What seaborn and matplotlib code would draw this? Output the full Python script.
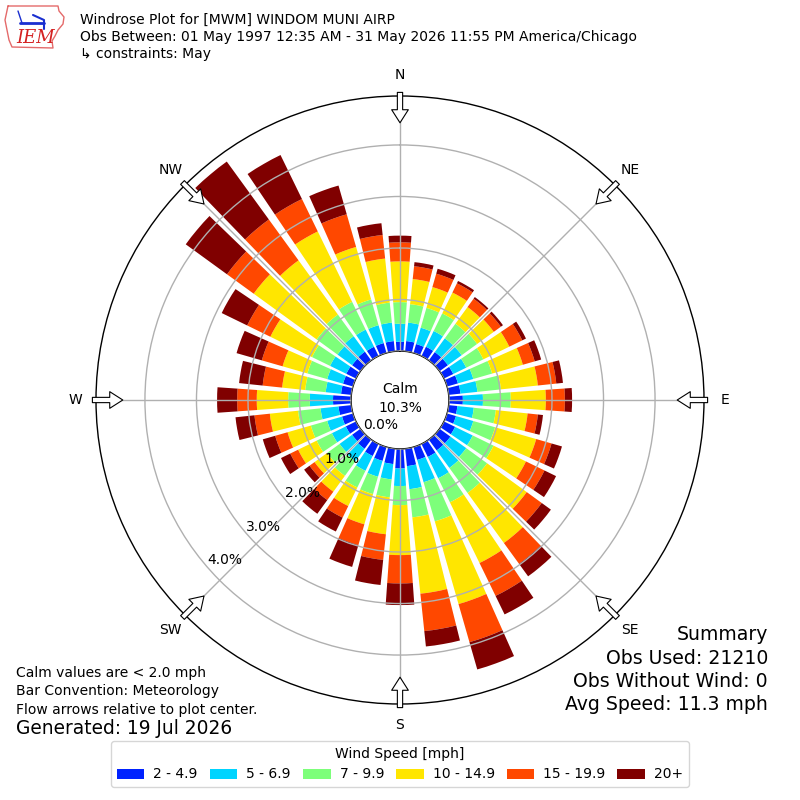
import numpy as np
import pandas as pd
import matplotlib
matplotlib.use("Agg")
import matplotlib.pyplot as plt
import seaborn as sns
from matplotlib.patches import Patch
from matplotlib.lines import Line2D

# ---------------- data (percent of observations) ----------------
directions = list(range(0, 360, 10))
speed_bins = ["2 - 4.9", "5 - 6.9", "7 - 9.9", "10 - 14.9", "15 - 19.9", "20+"]
bin_colors = ["#0022ff", "#00d4ff", "#7dff7a", "#ffe600", "#ff4800", "#800000"]

pct_2_5 = [0.18, 0.20, 0.18, 0.20, 0.20, 0.20, 0.20, 0.22, 0.23, 0.27,
           0.17, 0.18, 0.24, 0.26, 0.26, 0.28, 0.26, 0.34, 0.38,
           0.30, 0.28, 0.26, 0.22, 0.20, 0.22, 0.22, 0.25, 0.35,
           0.20, 0.20, 0.21, 0.20, 0.21, 0.20, 0.20, 0.20]
pct_5_7 = [0.35, 0.36, 0.33, 0.34, 0.33, 0.33, 0.28, 0.31, 0.33, 0.39,
           0.32, 0.35, 0.38, 0.38, 0.42, 0.46, 0.45, 0.45, 0.34,
           0.30, 0.32, 0.32, 0.30, 0.30, 0.30, 0.30, 0.35, 0.45,
           0.30, 0.32, 0.35, 0.35, 0.37, 0.37, 0.36, 0.36]
pct_7_10 = [0.42, 0.36, 0.40, 0.38, 0.35, 0.37, 0.37, 0.38, 0.46, 0.54,
            0.43, 0.44, 0.45, 0.50, 0.60, 0.52, 0.79, 0.55, 0.37,
            0.35, 0.35, 0.36, 0.35, 0.30, 0.33, 0.33, 0.44, 0.42,
            0.40, 0.40, 0.39, 0.50, 0.52, 0.60, 0.52, 0.39]
pct_10_15 = [0.79, 0.49, 0.42, 0.45, 0.40, 0.40, 0.56, 0.62, 0.72, 0.68,
             0.62, 0.83, 0.70, 0.95, 1.20, 1.31, 1.67, 1.49, 0.97,
             0.72, 0.61, 0.40, 0.38, 0.30, 0.40, 0.47, 0.55, 0.61,
             0.45, 0.50, 0.90, 1.51, 1.30, 1.52, 1.06, 0.86]
pct_15_20 = [0.37, 0.25, 0.27, 0.20, 0.20, 0.17, 0.28, 0.24, 0.36, 0.37,
             0.20, 0.31, 0.40, 0.36, 0.50, 0.71, 0.77, 0.73, 0.55,
             0.50, 0.42, 0.25, 0.20, 0.12, 0.17, 0.25, 0.30, 0.38,
             0.38, 0.42, 0.50, 0.64, 0.98, 0.70, 0.66, 0.46]
pct_20p = [0.13, 0.08, 0.10, 0.05, 0.04, 0.05, 0.08, 0.13, 0.13, 0.14,
           0.10, 0.21, 0.25, 0.22, 0.30, 0.40, 0.55, 0.30, 0.42,
           0.49, 0.44, 0.30, 0.33, 0.13, 0.20, 0.25, 0.37, 0.39,
           0.46, 0.51, 0.55, 0.99, 1.39, 0.95, 0.58, 0.23]

compass_labels = ["N", "NE", "E", "SE", "S", "SW", "W", "NW"]
rticks = [0, 1, 2, 3, 4]
rtick_labels = ["0.0%", "1.0%", "2.0%", "3.0%", "4.0%"]
calm_pct = "10.3%"

title_lines = ["Windrose Plot for [MWM] WINDOM MUNI AIRP",
               "Obs Between: 01 May 1997 12:35 AM - 31 May 2026 11:55 PM America/Chicago",
               "\u21b3 constraints: May"]
notes = ["Calm values are < 2.0 mph", "Bar Convention: Meteorology",
         "Flow arrows relative to plot center."]
generated = "Generated: 19 Jul 2026"
summary = ["Summary", "Obs Used: 21210", "Obs Without Wind: 0", "Avg Speed: 11.3 mph"]

series = [pct_2_5, pct_5_7, pct_7_10, pct_10_15, pct_15_20, pct_20p]
rows = []
for name, vals in zip(speed_bins, series):
    for d, v in zip(directions, vals):
        rows.append({"theta": np.radians(d), "speed": name, "pct": v})
df = pd.DataFrame(rows)

# ---------------- style ----------------
sns.set_style("white")
plt.rcParams["font.family"] = ["DejaVu Sans"]
plt.rcParams["text.color"] = "black"
plt.rcParams["xtick.color"] = "black"
plt.rcParams["ytick.color"] = "black"
plt.rcParams["axes.labelcolor"] = "black"

fig = plt.figure(figsize=(8, 8), dpi=100)
ax = fig.add_axes([0.12, 0.12, 0.76, 0.76], projection="polar")
ax.set_theta_zero_location("N")
ax.set_theta_direction(-1)

palette = dict(zip(speed_bins, bin_colors))
sns.histplot(data=df, x="theta", weights="pct", hue="speed",
             hue_order=speed_bins[::-1], palette=palette, bins=36,
             binrange=(np.radians(-5), np.radians(355)),
             multiple="stack", shrink=0.8, element="bars", fill=True,
             alpha=1, linewidth=0, legend=False, ax=ax)
ax.set_xlabel("")
ax.set_ylabel("")

rmax = 4.95
ax.set_ylim(0, rmax)
ax.set_rorigin(-0.95)
ax.set_axisbelow(False)

ax.set_xticks(np.radians(np.arange(0, 360, 45)))
ax.set_xticklabels(compass_labels, fontsize=10)
ax.tick_params(axis="x", pad=4.5)
ax.set_yticks(rticks)
ax.set_yticklabels(rtick_labels, fontsize=10)
ax.set_rlabel_position(229)
ax.grid(True, color="#b0b0b0", linewidth=1)
for sp in ax.spines.values():
    sp.set_color("black")
    sp.set_linewidth(1)

for ang in range(0, 360, 45):
    t = np.radians(ang)
    ax.annotate("", xy=(t, 4.43), xytext=(t, rmax + 0.07),
                arrowprops=dict(facecolor="white", edgecolor="black",
                                width=3.8, headwidth=12, headlength=9.4,
                                lw=0.8, shrink=0),
                annotation_clip=False, zorder=6)

fig.text(0.5, 1 - 389 / 800, "Calm", ha="center", va="center", fontsize=10)
fig.text(0.5, 1 - 407.5 / 800, calm_pct, ha="center", va="center", fontsize=10)

# ---------------- header / logo ----------------
def px(x, y):
    return x / 800, 1 - y / 800

iowa = [(8, 6), (58, 6), (59, 11), (64, 17), (63, 24), (58, 30), (55, 36),
        (52, 41), (53, 48), (12, 47), (9, 40), (7, 30), (5, 20), (8, 6)]
ix, iy = zip(*[px(a, b) for a, b in iowa])
fig.add_artist(Line2D(ix, iy, color="#e46a6a", lw=1, transform=fig.transFigure))
bx, by = zip(*[px(20, 23), px(44, 23)])
fig.add_artist(Line2D(bx, by, color="#1a2fd0", lw=2, transform=fig.transFigure))
sx, sy = zip(*[px(18, 11), px(22, 23)])
fig.add_artist(Line2D(sx, sy, color="#1a2fd0", lw=1, transform=fig.transFigure))
tx, ty = zip(*[px(33, 15), px(44, 20), px(44, 29)])
fig.add_artist(Line2D(tx, ty, color="#1a2fd0", lw=1.5, transform=fig.transFigure))
fig.text(36 / 800, 1 - 38 / 800, "IEM", color="#d42020", fontsize=13,
         family="DejaVu Serif", style="italic", ha="center", va="center")

for i, line in enumerate(title_lines):
    fig.text(80 / 800, 1 - (20 + 17 * i) / 800, line, fontsize=10,
             ha="left", va="center")

for i, line in enumerate(notes):
    fig.text(16 / 800, 1 - (673 + 18.5 * i) / 800, line, fontsize=10,
             ha="left", va="center")
fig.text(16 / 800, 1 - 729 / 800, generated, fontsize=13.4, ha="left", va="center")

for i, line in enumerate(summary):
    fig.text(768 / 800, 1 - (635 + 23.3 * i) / 800, line, fontsize=13.6,
             ha="right", va="center")

handles = [Patch(facecolor=c, edgecolor="none") for c in bin_colors]
leg = fig.legend(handles, speed_bins, loc="lower center",
                 bbox_to_anchor=(0.5, 6 / 800), ncol=6,
                 title="Wind Speed [mph]", fontsize=10, title_fontsize=10,
                 frameon=True, fancybox=True, columnspacing=0.85,
                 handletextpad=0.65)
leg.get_frame().set_edgecolor("#cccccc")
leg.get_frame().set_linewidth(1)

fig.savefig("out.png", dpi=100)
